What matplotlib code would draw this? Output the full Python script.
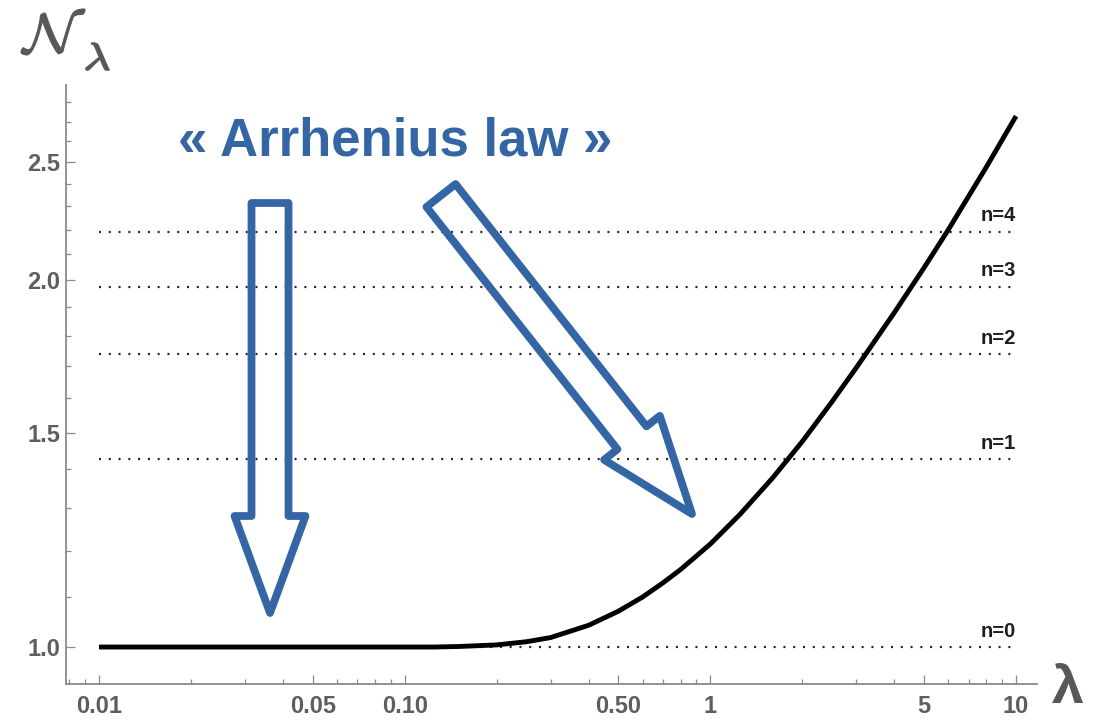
import numpy as np
import matplotlib
matplotlib.use("Agg")
import matplotlib.pyplot as plt
from matplotlib.patches import Polygon, PathPatch
from matplotlib.textpath import TextPath
from matplotlib.font_manager import FontProperties
from matplotlib.transforms import Affine2D, IdentityTransform
from matplotlib.ticker import NullFormatter

# Curve N_lambda versus lambda
lam = [0.01, 0.02, 0.05, 0.1, 0.125, 0.15, 0.2, 0.25, 0.3, 0.4, 0.5, 0.6,
       0.7, 0.8, 1.0, 1.25, 1.6, 2.0, 2.5, 3.0, 4.0, 5.0, 6.0, 7.0, 8.0, 10.0]
N_lam = [1.000, 1.000, 1.000, 1.000, 1.000, 1.001, 1.004, 1.010, 1.018,
         1.042, 1.070, 1.099, 1.129, 1.158, 1.215, 1.285, 1.377, 1.475,
         1.590, 1.695, 1.882, 2.048, 2.200, 2.345, 2.478, 2.728]

# Horizontal reference levels
level_n = [0, 1, 2, 3, 4]
level_N = [1.000, 1.426, 1.740, 1.976, 2.192]

# Axis ticks
x_major = [0.01, 0.05, 0.1, 0.5, 1, 5, 10]
x_major_labels = ["0.01", "0.05", "0.10", "0.50", "1", "5", "10"]
x_minor = [0.008, 0.009, 0.02, 0.03, 0.04, 0.06, 0.07, 0.08, 0.09,
           0.2, 0.3, 0.4, 0.6, 0.7, 0.8, 0.9, 2, 3, 4, 6, 7, 8, 9]
y_major = [1.0, 1.5, 2.0, 2.5]
y_major_labels = ["1.0", "1.5", "2.0", "2.5"]
y_minor = [1.1, 1.2, 1.3, 1.4, 1.6, 1.7, 1.8, 1.9, 2.1, 2.2, 2.3, 2.4,
           2.6, 2.7, 2.8]

W, H = 1104, 720
BLUE = "#3465a5"
AXGRAY = "#8a8a8a"
LABGRAY = "#5e5e5e"
TITLEGRAY = "#585858"
FONT = "Liberation Sans"

plt.rcParams["font.family"] = [FONT, "DejaVu Sans"]

fig = plt.figure(figsize=(W / 100, H / 100), dpi=100)
ax = fig.add_axes([66 / W, 1 - 684 / H, (1037 - 66) / W, (684 - 85) / H])
ax.set_xscale("log")
ax.set_yscale("log")
ax.set_xlim(0.0078, 11.71)
ax.set_ylim(0.9325, 2.893)

# levels
for n, v in zip(level_n, level_N):
    ax.plot([lam[0], lam[-1]], [v, v], color="#222222", lw=1.6,
            linestyle=(0, (0.9, 3.5)), zorder=2)
    ax.annotate(f"n={n}", xy=(lam[-1], v), xytext=(0, 7.5),
                textcoords="offset points", ha="right", va="baseline",
                fontsize=14.5, fontweight="bold", color="#1e1e1e",
                family=FONT)

# main curve
ax.plot(lam, N_lam, color="black", lw=3.5, solid_capstyle="butt",
        solid_joinstyle="round", zorder=3)

# axes styling
for side in ("top", "right"):
    ax.spines[side].set_visible(False)
for side in ("left", "bottom"):
    ax.spines[side].set_color(AXGRAY)
    ax.spines[side].set_linewidth(1.3)

ax.set_xticks(x_major, labels=x_major_labels)
ax.set_xticks(x_minor, minor=True)
ax.set_yticks(y_major, labels=y_major_labels)
ax.set_yticks(y_minor, minor=True)
ax.xaxis.set_minor_formatter(NullFormatter())
ax.yaxis.set_minor_formatter(NullFormatter())
ax.tick_params(which="major", direction="in", length=6.8, width=0.9,
               color=AXGRAY, labelsize=17, labelcolor=LABGRAY)
ax.tick_params(which="minor", direction="in", length=3.8, width=0.9,
               color=AXGRAY)
ax.tick_params(axis="x", which="major", pad=8)
ax.tick_params(axis="y", which="major", pad=4)
for lbl in ax.get_xticklabels() + ax.get_yticklabels():
    lbl.set_fontweight("bold")


def glyph_in_box(text, prop, box, color, edge=0.0):
    """Draw text as a filled path scaled into a pixel box (x0, y0, x1, y1),
    measured from the top-left corner of the figure."""
    tp = TextPath((0, 0), text, size=100, prop=prop)
    ext = tp.get_extents()
    x0, y0, x1, y1 = box
    sx = (x1 - x0) / ext.width
    sy = (y1 - y0) / ext.height
    tr = (Affine2D().translate(-ext.x0, -ext.y0).scale(sx, sy)
          .translate(x0, H - y1))
    patch = PathPatch(tr.transform_path(tp), facecolor=color,
                      edgecolor=color if edge else "none", lw=edge,
                      transform=IdentityTransform())
    fig.add_artist(patch)


# axis titles
glyph_in_box(r"$\mathcal{N}$", FontProperties(math_fontfamily="cm"),
             (21, 9, 85, 55), TITLEGRAY, edge=0.8)
glyph_in_box(r"$\lambda$", FontProperties(math_fontfamily="cm"),
             (86, 43, 109, 70), TITLEGRAY, edge=1.2)
glyph_in_box("λ", FontProperties(family=FONT, weight="bold"),
             (1052, 663, 1083, 703), TITLEGRAY)

# annotation
fig.text(178 / W, 1 - 155 / H, "« Arrhenius law »", fontsize=38,
         fontweight="bold", color=BLUE, ha="left", va="baseline",
         family=FONT)


def block_arrow(tail, tip, half_shaft, half_head, head_len):
    tail = np.asarray(tail, float)
    tip = np.asarray(tip, float)
    u = (tip - tail) / np.linalg.norm(tip - tail)
    p = np.array([-u[1], u[0]])
    base = tip - head_len * u
    pts = [tail + half_shaft * p, base + half_shaft * p, base + half_head * p,
           tip, base - half_head * p, base - half_shaft * p,
           tail - half_shaft * p]
    return [(x / W, 1 - y / H) for x, y in pts]


for tail, tip in [((270, 203), (270, 613)), ((441, 195.5), (692, 514))]:
    poly = Polygon(block_arrow(tail, tip, 18.5, 35.5, 97), closed=True,
                   fill=False, edgecolor=BLUE, lw=5.6, joinstyle="round",
                   transform=fig.transFigure, zorder=5)
    fig.add_artist(poly)

fig.savefig("out.png", dpi=100)
